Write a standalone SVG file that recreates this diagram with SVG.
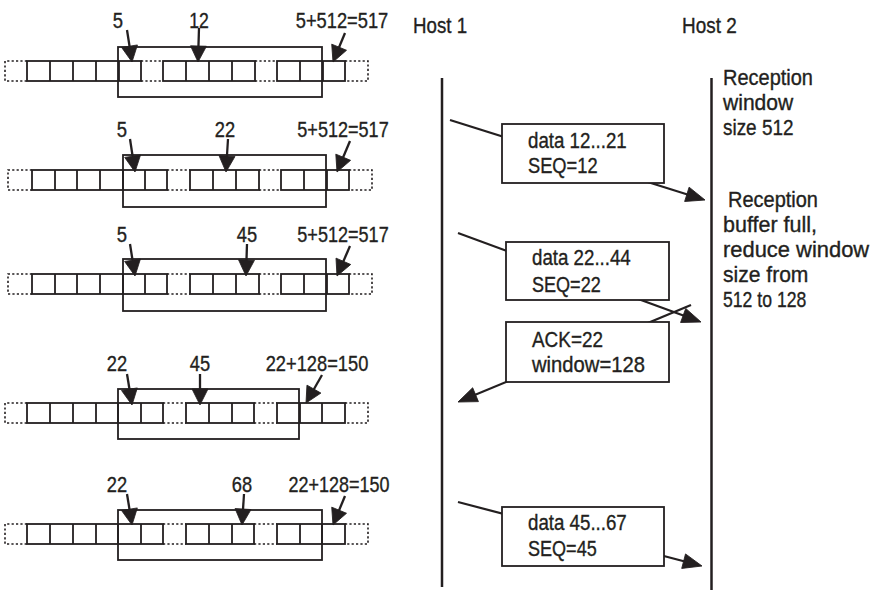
<svg xmlns="http://www.w3.org/2000/svg" width="875" height="590" viewBox="0 0 875 590">
<style>
text{font-family:"Liberation Sans",Arial,sans-serif;font-size:21.5px;fill:#231f20;stroke:#231f20;stroke-width:0.35}
.c{text-anchor:middle}
.cell{fill:none;stroke:#231f20;stroke-width:1.8}
.dot{fill:none;stroke:#231f20;stroke-width:1.6;stroke-dasharray:2.2 2.2}
.win{fill:none;stroke:#231f20;stroke-width:1.8}
.pa{stroke:#231f20;stroke-width:2.3;fill:none}
.host{stroke:#231f20;stroke-width:2.5;fill:none}
.msg{stroke:#231f20;stroke-width:2.2;fill:none}
.box{fill:#fff;stroke:#231f20;stroke-width:1.8}
.hd{fill:#231f20;stroke:#231f20;stroke-width:0.8;stroke-linejoin:miter}
</style>
<defs>
<path id="h1" d="M0,0L-16,-8L-16,8z"/>
<path id="h2" d="M0,0L-19,-7.5L-19,7.5z"/>
</defs>
<rect width="875" height="590" fill="#fff"/>

<g id="row1">
<path class="dot" d="M27,61H5V81H27M141,61H163M141,81H163M255,61H277M255,81H277M345,61H368V81H345"/>
<rect class="cell" x="27" y="61" width="114" height="20"/>
<path class="cell" d="M50,61V81M73,61V81M96,61V81M119,61V81"/>
<rect class="cell" x="163" y="61" width="92" height="20"/>
<path class="cell" d="M186,61V81M209,61V81M232,61V81"/>
<rect class="cell" x="277" y="61" width="68" height="20"/>
<path class="cell" d="M300,61V81M323,61V81"/>
<rect class="win" x="118" y="47" width="204" height="50"/>
<text class="c" transform="translate(118,28) scale(0.86,1)">5</text>
<text class="c" transform="translate(199,28) scale(0.82,1)">12</text>
<text class="c" transform="translate(342,28) scale(0.85,1)">5+512=517</text>
</g>

<g id="row2">
<path class="dot" d="M32,170H8V190H32M167,170H190M167,190H190M259,170H281M259,190H281M349,170H372V190H349"/>
<rect class="cell" x="32" y="170" width="135" height="20"/>
<path class="cell" d="M55,170V190M77,170V190M100,170V190M123,170V190M145,170V190"/>
<rect class="cell" x="190" y="170" width="69" height="20"/>
<path class="cell" d="M213,170V190M236,170V190"/>
<rect class="cell" x="281" y="170" width="68" height="20"/>
<path class="cell" d="M304,170V190M327,170V190"/>
<rect class="win" x="123" y="155" width="203" height="52"/>
<text class="c" transform="translate(122,137) scale(0.86,1)">5</text>
<text class="c" transform="translate(225,137) scale(0.85,1)">22</text>
<text class="c" transform="translate(343,137) scale(0.84,1)">5+512=517</text>
</g>

<g id="row3">
<path class="dot" d="M32,274H8V294H32M167,274H190M167,294H190M259,274H281M259,294H281M349,274H372V294H349"/>
<rect class="cell" x="32" y="274" width="135" height="20"/>
<path class="cell" d="M55,274V294M77,274V294M100,274V294M123,274V294M145,274V294"/>
<rect class="cell" x="190" y="274" width="69" height="20"/>
<path class="cell" d="M213,274V294M236,274V294"/>
<rect class="cell" x="281" y="274" width="68" height="20"/>
<path class="cell" d="M304,274V294M327,274V294"/>
<rect class="win" x="123" y="259" width="203" height="52"/>
<text class="c" transform="translate(122,242) scale(0.86,1)">5</text>
<text class="c" transform="translate(247,242) scale(0.85,1)">45</text>
<text class="c" transform="translate(343,242) scale(0.84,1)">5+512=517</text>
</g>

<g id="row4">
<path class="dot" d="M27,403H5V423H27M163,403H186M163,423H186M254,403H277M254,423H277M345,403H368V423H345"/>
<rect class="cell" x="27" y="403" width="136" height="20"/>
<path class="cell" d="M50,403V423M73,403V423M96,403V423M118,403V423M141,403V423"/>
<rect class="cell" x="186" y="403" width="68" height="20"/>
<path class="cell" d="M209,403V423M232,403V423"/>
<rect class="cell" x="277" y="403" width="68" height="20"/>
<path class="cell" d="M300,403V423M322,403V423"/>
<rect class="win" x="118" y="389" width="181" height="50"/>
<text class="c" transform="translate(117,371) scale(0.85,1)">22</text>
<text class="c" transform="translate(200,371) scale(0.85,1)">45</text>
<text class="c" transform="translate(317,371) scale(0.85,1)">22+128=150</text>
</g>

<g id="row5">
<path class="dot" d="M27,524H5V544H27M163,524H186M163,544H186M254,524H277M254,544H277M345,524H368V544H345"/>
<rect class="cell" x="27" y="524" width="136" height="20"/>
<path class="cell" d="M50,524V544M73,524V544M96,524V544M118,524V544M141,524V544"/>
<rect class="cell" x="186" y="524" width="68" height="20"/>
<path class="cell" d="M209,524V544M232,524V544"/>
<rect class="cell" x="277" y="524" width="68" height="20"/>
<path class="cell" d="M300,524V544M322,524V544"/>
<rect class="win" x="118" y="510" width="204" height="50"/>
<text class="c" transform="translate(117,492) scale(0.85,1)">22</text>
<text class="c" transform="translate(242,492) scale(0.85,1)">68</text>
<text class="c" transform="translate(339,492) scale(0.835,1)">22+128=150</text>
</g>

<g id="host1">
<text transform="translate(413,33) scale(0.87,1)">Host 1</text>
<line class="host" x1="442" y1="78" x2="442" y2="587"/>
</g>
<g id="host2">
<text transform="translate(682,33) scale(0.88,1)">Host 2</text>
<line class="host" x1="711.5" y1="78" x2="711.5" y2="590"/>
<text transform="translate(723,85) scale(0.93,1)">Reception</text>
<text transform="translate(723,110) scale(0.98,1)">window</text>
<text transform="translate(723,135) scale(0.88,1)">size 512</text>
<text transform="translate(728,207) scale(0.93,1)">Reception</text>
<text transform="translate(723,232) scale(1,1)">buffer full,</text>
<text transform="translate(723,257) scale(1.02,1)">reduce window</text>
<text transform="translate(723,282) scale(0.98,1)">size from</text>
<text transform="translate(723,307) scale(0.82,1)">512 to 128</text>
</g>

<g id="connectors">
<line class="pa" x1="127" y1="30" x2="131.4" y2="58"/><use href="#h1" class="hd" transform="translate(132,62) rotate(81.1)"/>
<line class="pa" x1="199" y1="28" x2="198.1" y2="58"/><use href="#h1" class="hd" transform="translate(198,62) rotate(91.7)"/>
<line class="pa" x1="345" y1="33" x2="334.5" y2="58.3"/><use href="#h1" class="hd" transform="translate(333,62) rotate(112.5)"/>
<line class="pa" x1="130" y1="139" x2="134.4" y2="168"/><use href="#h1" class="hd" transform="translate(135,172) rotate(81.4)"/>
<line class="pa" x1="228" y1="139" x2="226.2" y2="168"/><use href="#h1" class="hd" transform="translate(226,172) rotate(93.5)"/>
<line class="pa" x1="350" y1="141" x2="338.5" y2="168.3"/><use href="#h1" class="hd" transform="translate(337,172) rotate(112.8)"/>
<line class="pa" x1="130" y1="244" x2="134.4" y2="272"/><use href="#h1" class="hd" transform="translate(135,276) rotate(81.1)"/>
<line class="pa" x1="247" y1="244" x2="246.1" y2="272"/><use href="#h1" class="hd" transform="translate(246,276) rotate(91.8)"/>
<line class="pa" x1="350" y1="246" x2="338.6" y2="272.3"/><use href="#h1" class="hd" transform="translate(337,276) rotate(113.4)"/>
<line class="pa" x1="127" y1="374" x2="131.4" y2="401"/><use href="#h1" class="hd" transform="translate(132,405) rotate(80.8)"/>
<line class="pa" x1="200" y1="374" x2="200" y2="401"/><use href="#h1" class="hd" transform="translate(200,405) rotate(90)"/>
<line class="pa" x1="322" y1="375" x2="308" y2="399.5"/><use href="#h1" class="hd" transform="translate(306,403) rotate(119.7)"/>
<line class="pa" x1="127" y1="494" x2="131.4" y2="521"/><use href="#h1" class="hd" transform="translate(132,525) rotate(80.8)"/>
<line class="pa" x1="244" y1="494" x2="242.3" y2="521"/><use href="#h1" class="hd" transform="translate(242,525) rotate(93.7)"/>
<line class="pa" x1="345" y1="496" x2="334.5" y2="521.3"/><use href="#h1" class="hd" transform="translate(333,525) rotate(112.5)"/>
<line class="msg" x1="450" y1="120" x2="700.2" y2="198.5"/><use href="#h2" class="hd" transform="translate(705,200) rotate(17.4)"/>
<line class="msg" x1="458" y1="233" x2="696.3" y2="320.3"/><use href="#h2" class="hd" transform="translate(701,322) rotate(20.1)"/>
<line class="msg" x1="691" y1="305" x2="462.6" y2="400.1"/><use href="#h2" class="hd" transform="translate(458,402) rotate(157.4)"/>
<line class="msg" x1="458" y1="502" x2="697.2" y2="564.7"/><use href="#h2" class="hd" transform="translate(702,566) rotate(14.7)"/>
</g>

<g id="msg1">
<rect class="box" x="502" y="124" width="162" height="59"/>
<text transform="translate(528,148) scale(0.87,1)">data 12...21</text>
<text transform="translate(528,173) scale(0.85,1)">SEQ=12</text>
</g>
<g id="msg2">
<rect class="box" x="506" y="242" width="163" height="58"/>
<text transform="translate(532,265) scale(0.87,1)">data 22...44</text>
<text transform="translate(532,292) scale(0.84,1)">SEQ=22</text>
</g>
<g id="ack">
<rect class="box" x="506" y="322" width="163" height="60"/>
<text transform="translate(532,347) scale(0.88,1)">ACK=22</text>
<text transform="translate(532,372) scale(0.94,1)">window=128</text>
</g>
<g id="msg3">
<rect class="box" x="502" y="507" width="162" height="59"/>
<text transform="translate(528,530) scale(0.87,1)">data 45...67</text>
<text transform="translate(528,556) scale(0.84,1)">SEQ=45</text>
</g>
</svg>
